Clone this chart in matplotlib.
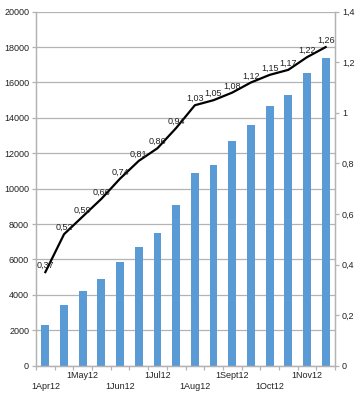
import matplotlib
matplotlib.use("Agg")
import matplotlib.pyplot as plt
import numpy as np

plt.rcParams['font.family'] = ['Liberation Sans', 'DejaVu Sans']

categories = ["1Apr12", "", "1May12", "", "1Jun12", "", "1Jul12", "",
              "1Aug12", "", "1Sept12", "", "1Oct12", "", "1Nov12", ""]
bar_values = [2300, 3450, 4220, 4900, 5880, 6690, 7510, 9100,
              10900, 11350, 12710, 13600, 14690, 15280, 16520, 17370]
ratio_values = [0.37, 0.52, 0.59, 0.66, 0.74, 0.81, 0.86, 0.94,
                1.03, 1.05, 1.08, 1.12, 1.15, 1.17, 1.22, 1.26]
left_ticks = list(range(0, 20001, 2000))
right_ticks = [0, 0.2, 0.4, 0.6, 0.8, 1.0, 1.2, 1.4]

bar_color = '#5b9bd5'
grid_color = '#b3b3b3'
text_color = '#222222'

fig = plt.figure(figsize=(3.58, 4.0), dpi=100)
ax = fig.add_axes([0.1006, 0.0858, 0.8352, 0.885])
x = np.arange(len(categories))

ax.bar(x, bar_values, width=0.42, color=bar_color, zorder=2)
ax.set_xlim(-0.5, len(categories) - 0.5)
ax.set_ylim(0, 20000)
ax.set_yticks(left_ticks)
ax.set_yticklabels([str(t) for t in left_ticks])
ax.grid(axis='y', color=grid_color, linewidth=0.9, zorder=0)
ax.set_axisbelow(True)

labels = []
for i, c in enumerate(categories):
    if c and (i // 2) % 2 == 0:
        labels.append("\n" + c)
    else:
        labels.append(c)
ax.set_xticks(x)
ax.set_xticklabels(labels, fontsize=6.5, color=text_color, linespacing=1.25)
ax.set_xticks(np.arange(-0.5, len(categories), 1.0), minor=True)
ax.tick_params(axis='x', which='major', length=0, pad=4)
ax.tick_params(axis='x', which='minor', length=3, color=grid_color, width=0.9)
ax.tick_params(axis='y', length=3, color=grid_color, width=0.9, labelsize=6.5,
               labelcolor=text_color, pad=2)

for s in ['top']:
    ax.spines[s].set_visible(False)
for s in ['left', 'bottom', 'right']:
    ax.spines[s].set_color(grid_color)
    ax.spines[s].set_linewidth(0.9)

ax2 = ax.twinx()
ax2.plot(x, ratio_values, color='black', linewidth=1.6, zorder=5)
ax2.set_ylim(0, 1.4)
ax2.set_yticks(right_ticks)
ax2.set_yticklabels([("%g" % t).replace('.', ',') for t in right_ticks])
ax2.tick_params(axis='y', length=3, color=grid_color, width=0.9, labelsize=6.5,
                labelcolor=text_color, pad=2)
for s in ['top']:
    ax2.spines[s].set_visible(False)
for s in ['left', 'bottom', 'right']:
    ax2.spines[s].set_color(grid_color)
    ax2.spines[s].set_linewidth(0.9)

for xi, v in zip(x, ratio_values):
    ax2.annotate(("%.2f" % v).replace('.', ','), (xi, v), xytext=(0, 1.5),
                 textcoords='offset points', ha='center', va='bottom',
                 fontsize=6.5, color=text_color, zorder=6)

fig.savefig('out.png', dpi=100)
